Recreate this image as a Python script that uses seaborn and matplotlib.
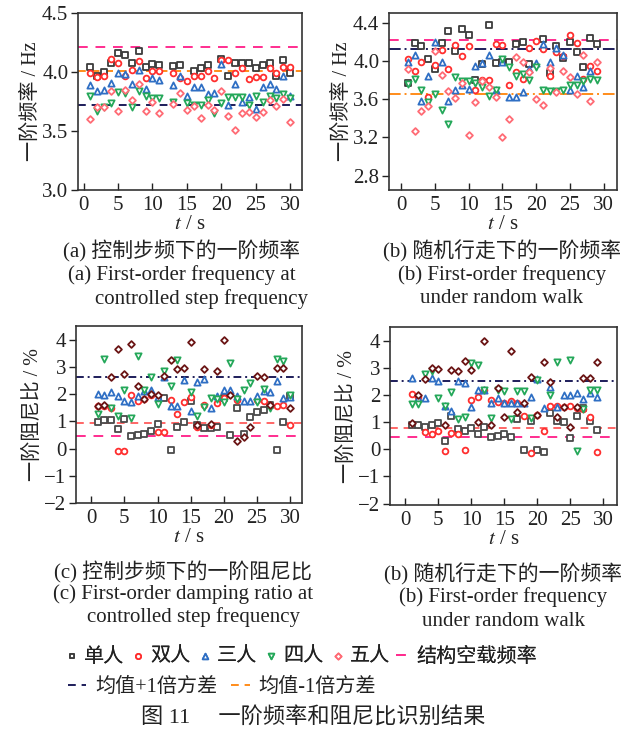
import numpy as np
import pandas as pd
import matplotlib
matplotlib.use("Agg")
import matplotlib.pyplot as plt
import seaborn as sns

nan = np.nan

# ---------------- data ----------------
series_names = ["单人", "双人", "三人", "四人", "五人"]
line_names = ["结构空载频率", "均值+1倍方差", "均值-1倍方差"]

t_a = list(range(1, 31))
sq_a = [4.04, 3.97, 4.00, 4.08, 4.16, 4.14, 4.08, 4.18, 4.04, 4.07, 4.06, nan, 4.05, 4.06, nan,
        4.01, 4.03, 4.06, nan, 4.11, 3.97, 4.08, 4.08, 4.08, 4.03, 4.06, 4.08, 3.97, 4.10, 3.99]
ci_a = [3.99, 3.96, 3.97, 4.11, 4.08, 3.97, 4.02, 4.09, 3.95, 4.01, 4.01, nan, 3.99, 3.95, 3.92,
        3.97, 3.97, 4.01, 3.95, 4.10, 4.10, 3.99, 4.03, 3.94, 3.96, 3.96, 4.03, 3.99, 4.04, 4.04]
up_a = [3.89, 3.84, 3.85, 3.91, 3.99, 3.98, 3.90, 4.02, 3.86, 3.95, 3.93, nan, 3.89, 3.97, 3.80,
        3.87, 3.87, 3.81, 3.82, 4.07, 3.72, 3.90, 3.75, 3.79, 3.69, 3.87, 3.90, 3.86, 3.97, 3.80]
dn_a = [3.80, 3.67, 3.70, 3.74, 3.83, 3.82, 3.70, 3.84, 3.80, 3.78, 3.78, nan, 3.75, nan, 3.74,
        3.72, 3.72, 3.76, 3.65, 3.74, 3.79, 3.79, 3.79, 3.72, 3.80, 3.75, 3.80, 3.78, 3.81, 3.78]
di_a = [3.60, 3.70, 3.70, 3.84, 3.67, 3.85, 3.76, 3.90, 3.67, 3.75, 3.65, nan, 3.73, 3.82, 3.68,
        3.71, 3.61, 3.72, 3.68, 3.84, 3.63, 3.51, 3.65, 3.66, 3.62, 3.66, 3.76, 3.71, 3.77, 3.58]
lines_a = [4.21, 3.72, 4.01]

t_b = list(range(1, 30))
sq_b = [3.77, 4.19, 4.16, 4.02, 3.91, 4.19, 4.31, 4.10, 4.33, 4.27, 3.80, 3.97, 4.37, 3.98, 3.99,
        3.99, 4.18, 4.20, 3.97, nan, 4.23, 3.87, 4.16, 4.03, 4.20, 4.09, 3.94, 4.24, 4.18]
ci_b = [4.02, 3.89, 3.99, 3.62, 3.96, 4.11, 3.91, 4.17, 4.05, 4.15, 3.70, 3.80, 3.80, 4.18, 4.17,
        3.75, 3.88, 3.81, 4.13, 4.21, 4.12, 3.84, 4.09, 4.05, 4.27, 4.19, 3.81, 3.95, 3.89]
up_b = [3.99, 4.06, 3.58, 3.84, 4.20, 3.99, 3.58, 3.70, 3.75, 3.71, 3.95, 3.98, 4.06, 3.69, 3.99,
        3.62, 3.62, 3.67, 3.91, 3.98, 4.18, 3.99, 4.13, 4.06, 3.69, 3.84, 3.73, 3.89, nan]
dn_b = [3.76, 3.81, 3.70, 3.57, 3.65, 3.49, 3.34, 3.83, 3.79, 3.79, 3.77, 3.73, 3.63, 3.69, 4.02,
        3.94, 3.84, 3.86, 3.80, 3.94, 3.69, 3.68, 3.68, 3.70, 3.75, 3.75, 3.79, 3.81, 3.80]
di_b = [3.91, 3.27, 3.48, 3.53, 4.10, 3.85, 3.68, 3.61, 3.77, 3.22, 3.57, 3.79, 3.73, 3.62, 3.20,
        3.39, 4.04, 3.99, 3.88, 3.60, 3.54, 3.92, 3.67, 3.89, 3.83, 3.65, 4.06, 3.58, 3.99]
lines_b = [4.22, 4.12, 3.65]

t_c = list(range(1, 31))
sq_c = [0.99, 1.03, 1.03, 0.73, 1.09, 0.46, 0.51, 0.55, 0.63, 0.91, 1.84, -0.06, 0.79, 0.97, 1.76,
        0.87, 0.75, 0.75, 0.78, 1.84, 0.48, 1.48, 0.55, 1.15, 1.33, 1.43, 1.60, -0.04, 0.99, 1.92]
ci_c = [1.58, 1.58, 1.48, -0.08, -0.08, 1.96, 1.76, 1.82, 1.96, 0.61, 0.61, 1.79, 1.27, 1.70, 1.88,
        0.79, 1.60, 0.87, 1.67, 1.84, nan, 1.80, nan, nan, 1.80, 1.76, nan, 1.58, 1.60, 0.87]
up_c = [2.00, 1.96, 2.06, 1.94, 1.76, 1.72, 1.92, 2.12, 2.15, 1.88, 2.61, 1.55, 1.58, 2.51, 1.39,
        2.45, 2.55, 1.48, 1.92, 2.16, 2.16, 1.92, 1.76, 1.76, 1.94, 2.12, 2.08, 2.48, 1.85, 1.88]
dn_c = [1.27, 3.27, 1.48, 1.19, 2.16, 1.12, 3.39, 2.16, 2.63, 1.64, 2.85, 2.28, 3.25, nan, 2.08,
        1.21, 1.52, 1.84, 1.82, 1.72, 3.13, 1.82, 2.16, 2.42, 1.70, 2.18, 1.48, 3.27, 3.21, 1.96]
di_c = [1.58, 1.60, 2.61, 3.66, 2.73, 3.84, 2.28, 1.82, 2.00, 1.96, 2.67, 3.25, 2.93, 2.97, 3.90,
        0.87, 2.91, 0.91, 2.85, 3.98, 1.96, 0.27, 0.42, 0.79, 2.67, 2.64, 1.60, 2.97, 2.97, 1.48]
lines_c = [0.47, 2.63, 0.95]

t_d = list(range(1, 30))
sq_d = [0.88, 0.91, 0.83, 0.91, 0.95, 0.30, 1.22, 0.73, 0.67, 0.79, 0.55, 0.83, 0.46, 0.49, 0.55,
        0.45, 1.12, -0.04, 1.04, -0.04, -0.10, 1.32, 1.04, 1.00, 0.43, 1.22, 1.52, 1.04, 0.71]
ci_d = [2.05, 1.93, 0.63, 0.55, 0.67, -0.06, 0.61, 0.55, -0.04, 1.83, 1.93, 2.20, 1.83, 1.73, 1.71,
        1.77, 1.71, 1.24, -0.15, 1.28, 0.67, 1.61, 1.61, 1.56, 1.61, 1.52, 1.49, 1.20, -0.10]
up_d = [2.62, 1.89, 1.89, 2.62, 2.50, 1.59, 1.40, 2.52, 2.44, 1.56, 2.17, 2.17, 1.71, 1.89, 1.71,
        1.71, 1.71, 1.71, 1.93, 2.59, 1.52, 2.29, 1.55, 1.98, 1.98, 2.07, 1.85, 2.07, 1.93]
dn_d = [1.65, 1.65, 2.78, 2.87, 1.89, 1.59, 2.10, 1.12, 1.20, 3.17, 3.11, 2.20, 1.16, 2.17, 2.13,
        1.12, 2.13, 2.13, 1.16, 2.56, nan, 2.01, 3.23, nan, 3.27, -0.06, 1.49, 2.17, 2.20]
di_d = [0.98, 1.98, 2.59, 2.99, 2.95, 0.91, 2.90, 2.87, 3.26, 2.93, 1.00, 4.00, 0.91, 2.26, 1.20,
        3.63, 1.37, 1.71, 2.66, 1.28, 3.23, 2.46, 1.20, 1.56, 0.83, 1.56, 2.62, 2.62, 3.23]
lines_d = [0.44, 2.52, 0.78]

yticks_freq_a = [3.0, 3.5, 4.0, 4.5]
yticks_freq_b = [2.8, 3.2, 3.6, 4.0, 4.4]
yticks_damp = [-2, -1, 0, 1, 2, 3, 4]
xticks = [0, 5, 10, 15, 20, 25, 30]

captions = [
    ["(a) 控制步频下的一阶频率", "(a) First-order frequency at", "controlled step frequency"],
    ["(b) 随机行走下的一阶频率", "(b) First-order frequency", "under random walk"],
    ["(c) 控制步频下的一阶阻尼比", "(c) First-order damping ratio at", "controlled step frequency"],
    ["(b) 随机行走下的一阶频率", "(b) First-order frequency", "under random walk"],
]
ylabels = ["一阶频率 / Hz", "一阶频率 / Hz", "一阶阻尼比 / %", "一阶阻尼比 / %"]
fig_title = "图 11     一阶频率和阻尼比识别结果"

# ---------------- style ----------------
sns.set_theme(style="ticks")
FAM = ["Liberation Serif", "Noto Sans CJK SC"]
plt.rcParams["font.family"] = FAM
plt.rcParams["mathtext.fontset"] = "stix"
plt.rcParams["axes.unicode_minus"] = True

TXT = "#222222"
markers = ["s", "o", "^", "v", "D"]
colors_ab = ["#3c3c3c", "#ff2e2e", "#2f6fc4", "#25a85a", "#ff6b75"]
colors_cd = ["#4a4a4a", "#ff2e2e", "#2f6fc4", "#25a85a", "#6a1414"]
msizes = [15, 17, 20, 20, 12]
PINK = "#ff2d8f"
NAVY = "#1d1d5a"
ORANGE = "#ff8c1a"
SALMON = "#ff6666"

fig = plt.figure(figsize=(6.32, 7.29), dpi=100)
W, H = 632, 729


def ax_at(l, t, r, b):
    return fig.add_axes([l / W, 1 - b / H, (r - l) / W, (b - t) / H])


ax_a = ax_at(78, 13, 302, 190)
ax_b = ax_at(389, 13, 617, 190)
ax_c = ax_at(76, 326, 302, 503)
ax_d = ax_at(390, 327, 617, 505)

panels = [
    (ax_a, t_a, [sq_a, ci_a, up_a, dn_a, di_a], lines_a, colors_ab,
     [ORANGE, (0, (4, 3))], (0, (4, 3)), (-0.8, 31.7), (3.0, 4.5), yticks_freq_a, ["3.0", "3.5", "4.0", "4.5"]),
    (ax_b, t_b, [sq_b, ci_b, up_b, dn_b, di_b], lines_b, colors_ab,
     [ORANGE, (0, (6, 2, 1, 2))], (0, (6, 2, 1, 2)), (-1.8, 32.0), (2.65, 4.5), yticks_freq_b, ["2.8", "3.2", "3.6", "4.0", "4.4"]),
    (ax_c, t_c, [sq_c, ci_c, up_c, dn_c, di_c], lines_c, colors_cd,
     [SALMON, (0, (4, 3))], (0, (4, 2, 1, 2)), (-2.3, 31.8), (-2.0, 4.5), yticks_damp, None),
    (ax_d, t_d, [sq_d, ci_d, up_d, dn_d, di_d], lines_d, colors_cd,
     [SALMON, (0, (4, 3))], (0, (4, 2, 1, 2)), (-2.3, 32.1), (-2.05, 4.5), yticks_damp, None),
]

for i, (ax, t, ys, lns, cols, lowsty, navyls, xl, yl, yt, ytl) in enumerate(panels):
    ax.axhline(lns[0], color=PINK, lw=1.4, ls=(0, (5, 4)), label=line_names[0], zorder=1)
    ax.axhline(lns[1], color=NAVY, lw=1.4, ls=navyls, label=line_names[1], zorder=1)
    ax.axhline(lns[2], color=lowsty[0], lw=1.4, ls=lowsty[1], label=line_names[2], zorder=1)
    for j, y in enumerate(ys):
        df = pd.DataFrame({"t": t, "v": y}).dropna()
        sns.scatterplot(data=df, x="t", y="v", ax=ax, marker=markers[j], s=msizes[j],
                        color="white", edgecolor=cols[j], linewidth=1.3,
                        label=series_names[j], zorder=3, legend=False)
    ax.set_xlim(*xl)
    ax.set_ylim(*yl)
    ax.set_xticks(xticks)
    ax.set_yticks(yt)
    if ytl is not None:
        ax.set_yticklabels(ytl)
    ax.tick_params(axis="x", direction="in", length=5, width=1.0, labelsize=15, pad=4, colors=TXT)
    ax.tick_params(axis="y", direction="out", length=5, width=1.0, labelsize=15, pad=2, colors=TXT)
    for sp in ax.spines.values():
        sp.set_linewidth(1.2)
        sp.set_color("#333333")
    ax.set_xlabel("$t$ / s", fontsize=15, labelpad=0, color=TXT)
    ax.set_ylabel(ylabels[i], fontsize=14.5, labelpad=1, color=TXT)

# captions
cap_pos = [(182, 95, [251, 275, 299]), (502, None, [251, 275, 299]),
           (183, 87, [572, 594, 617]), (503, None, [574, 597, 621])]
for (cx, lx3, yy), cap in zip(cap_pos, captions):
    fig.text(cx / W, 1 - yy[0] / H, cap[0], ha="center", va="center", fontsize=15, color=TXT)
    fig.text(cx / W, 1 - yy[1] / H, cap[1], ha="center", va="center", fontsize=15, color=TXT)
    if lx3 is None:
        fig.text(cx / W, 1 - yy[2] / H, cap[2], ha="center", va="center", fontsize=15, color=TXT)
    else:
        fig.text(lx3 / W, 1 - yy[2] / H, cap[2], ha="left", va="center", fontsize=15, color=TXT)

# legend, built from panel (a) artists
handles, labels = ax_a.get_legend_handles_labels()
hmap = dict(zip(labels, handles))
row1 = series_names + [line_names[0]]
row2 = line_names[1:]
leg1 = fig.legend([hmap[k] for k in row1], row1, loc="center left",
                  bbox_to_anchor=(64 / W, 1 - 657 / H), ncol=6, frameon=False,
                  fontsize=14.5, handlelength=0.8, handletextpad=0.2, columnspacing=0.3,
                  borderpad=0, borderaxespad=0, markerscale=0.9, labelcolor=TXT)
leg2 = fig.legend([hmap[k] for k in row2], row2, loc="center left",
                  bbox_to_anchor=(68 / W, 1 - 687 / H), ncol=2, frameon=False,
                  fontsize=14.5, handlelength=0.9, handletextpad=0.45, columnspacing=0.7,
                  borderpad=0, borderaxespad=0, labelcolor=TXT)
fig.add_artist(leg1)

fig.text(141 / W, 1 - 718 / H, fig_title, ha="left", va="center", fontsize=16, color=TXT)

fig.savefig("out.png", dpi=100)
